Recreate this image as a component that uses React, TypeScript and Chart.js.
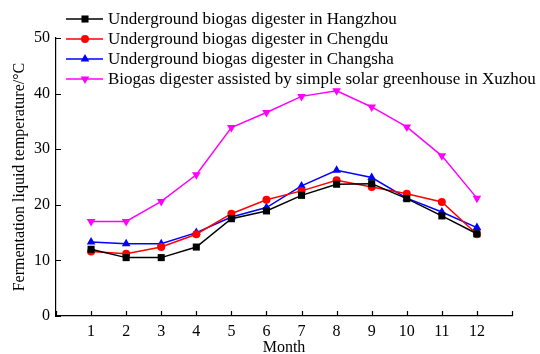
import React, { useEffect, useRef } from "react";
import { Chart, registerables } from "chart.js";

Chart.register(...registerables);

const months = [1, 2, 3, 4, 5, 6, 7, 8, 9, 10, 11, 12];
const hangzhou = [12.0, 10.5, 10.5, 12.4, 17.5, 18.9, 21.7, 23.7, 23.8, 21.1, 18.0, 14.8];
const chengdu = [11.6, 11.2, 12.4, 14.7, 18.4, 20.9, 22.5, 24.4, 23.2, 22.0, 20.5, 14.7];
const changsha = [13.3, 13.0, 13.0, 15.0, 17.8, 19.5, 23.4, 26.2, 24.9, 21.2, 18.7, 15.9];
const xuzhou = [17.0, 17.0, 20.6, 25.4, 33.9, 36.6, 39.5, 40.5, 37.6, 34.0, 28.8, 21.2];
const seriesLabels = [
  "Underground biogas digester in Hangzhou",
  "Underground biogas digester in Chengdu",
  "Underground biogas digester in Changsha",
  "Biogas digester assisted by simple solar greenhouse in Xuzhou",
];
const yTicks = [0, 10, 20, 30, 40, 50];
const xTicks = [0, 1, 2, 3, 4, 5, 6, 7, 8, 9, 10, 11, 12, 13];

const FONT = "'Liberation Serif', 'Times New Roman', serif";

function drawMarker(ctx: CanvasRenderingContext2D, style: string, rot: number, x: number, y: number, r: number, color: string) {
  ctx.save();
  ctx.fillStyle = color;
  ctx.beginPath();
  if (style === "rect") {
    const s = Math.SQRT1_2 * r;
    ctx.rect(x - s, y - s, 2 * s, 2 * s);
  } else if (style === "circle") {
    ctx.arc(x, y, r, 0, Math.PI * 2);
  } else {
    let rad = (rot * Math.PI) / 180;
    for (let i = 0; i < 3; i++) {
      const px = x + Math.sin(rad) * r;
      const py = y - Math.cos(rad) * r;
      if (i === 0) ctx.moveTo(px, py);
      else ctx.lineTo(px, py);
      rad += (2 * Math.PI) / 3;
    }
    ctx.closePath();
  }
  ctx.fill();
  ctx.restore();
}

const legendPlugin = {
  id: "customLegend",
  afterDraw(chart: any) {
    const ctx = chart.ctx as CanvasRenderingContext2D;
    ctx.save();
    chart.data.datasets.forEach((ds: any, i: number) => {
      const y = 19 + i * 20;
      ctx.strokeStyle = ds.borderColor;
      ctx.lineWidth = 1.5;
      ctx.beginPath();
      ctx.moveTo(66, y);
      ctx.lineTo(103, y);
      ctx.stroke();
      drawMarker(ctx, ds.pointStyle, ds.pointRotation || 0, 85, y, ds.pointRadius, ds.borderColor);
      ctx.fillStyle = "#000";
      ctx.font = "17px " + FONT;
      ctx.textBaseline = "middle";
      ctx.textAlign = "left";
      ctx.fillText(ds.label, 108, y + 0.5);
    });
    ctx.restore();
  },
};

const inwardTicks = {
  id: "inwardTicks",
  afterDraw(chart: any) {
    const ctx = chart.ctx as CanvasRenderingContext2D;
    const xs = chart.scales.x;
    const ys = chart.scales.y;
    const { left, bottom } = chart.chartArea;
    ctx.save();
    ctx.strokeStyle = "#000";
    ctx.lineWidth = 1.2;
    ctx.beginPath();
    xTicks.forEach((v) => {
      const px = Math.round(xs.getPixelForValue(v)) + 0.5;
      ctx.moveTo(px, bottom);
      ctx.lineTo(px, bottom - 5);
    });
    yTicks.forEach((v) => {
      const py = Math.round(ys.getPixelForValue(v)) + 0.5;
      ctx.moveTo(left, py);
      ctx.lineTo(left + 5, py);
    });
    ctx.stroke();
    ctx.restore();
  },
};

export default function App() {
  const ref = useRef<HTMLCanvasElement | null>(null);
  useEffect(() => {
    document.body.style.margin = "0";
    if (!ref.current) return;
    const mk = (label: string, data: number[], color: string, pointStyle: string, radius: number, rot = 0) => ({
      label,
      data: months.map((m, i) => ({ x: m, y: data[i] })),
      borderColor: color,
      backgroundColor: color,
      borderWidth: 1.5,
      pointStyle,
      pointRadius: radius,
      pointRotation: rot,
      pointBorderWidth: 0,
      pointBackgroundColor: color,
      tension: 0,
    });
    const chart = new Chart(ref.current, {
      type: "line",
      data: {
        datasets: [
          mk(seriesLabels[0], hangzhou, "#000000", "rect", 5),
          mk(seriesLabels[1], chengdu, "#ff0000", "circle", 4),
          mk(seriesLabels[2], changsha, "#0000ff", "triangle", 5),
          mk(seriesLabels[3], xuzhou, "#ff00ff", "triangle", 5, 180),
        ] as any,
      },
      options: {
        animation: false,
        responsive: false,
        maintainAspectRatio: false,
        layout: { padding: { top: 38, right: 28, left: 0, bottom: 0 } },
        plugins: { legend: { display: false }, tooltip: { enabled: false } },
        scales: {
          x: {
            type: "linear",
            min: 0,
            max: 13,
            afterFit: (s: any) => { s.height = 38; },
            afterBuildTicks: (s: any) => { s.ticks = xTicks.map((v) => ({ value: v })); },
            grid: { display: false, drawTicks: false },
            border: { display: true, color: "#000", width: 1.2 },
            ticks: {
              padding: 6,
              color: "#000",
              font: { family: FONT, size: 16 },
              callback: (v: any) => (v >= 1 && v <= 12 ? String(v) : ""),
            },
            title: { display: true, text: "Month", color: "#000", font: { family: FONT, size: 16 }, padding: { top: 0, bottom: -3 } },
          },
          y: {
            min: 0,
            max: 50,
            afterFit: (s: any) => { s.width = 56; },
            afterBuildTicks: (s: any) => { s.ticks = yTicks.map((v) => ({ value: v })); },
            grid: { display: false, drawTicks: false },
            border: { display: true, color: "#000", width: 1.2 },
            ticks: { padding: 6, color: "#000", font: { family: FONT, size: 16 } },
            title: {
              display: true,
              text: "Fermentation liquid temperature/°C",
              color: "#000",
              font: { family: FONT, size: 16 },
              padding: { top: 10, bottom: 0 },
            },
          },
        },
      },
      plugins: [inwardTicks, legendPlugin],
    });
    return () => chart.destroy();
  }, []);
  return <canvas ref={ref} width={540} height={354} style={{ display: "block", width: 540, height: 354 }} />;
}
